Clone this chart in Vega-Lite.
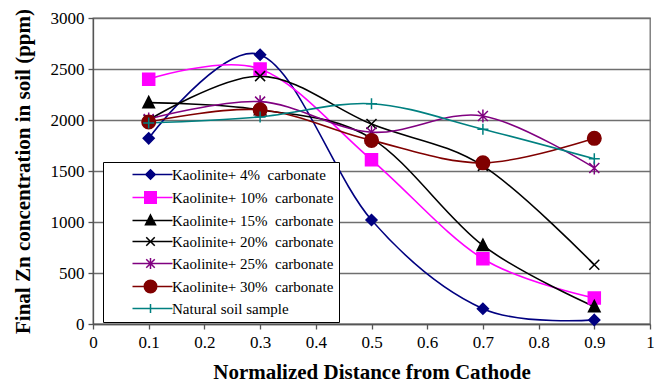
{
  "$schema": "https://vega.github.io/schema/vega-lite/v6.json",
  "width": 557,
  "height": 306,
  "autosize": {"type": "none"},
  "padding": {"left": 93, "top": 18, "right": 4, "bottom": 61},
  "background": "white",
  "config": {
    "view": {"stroke": "#6f6f6f", "strokeWidth": 1.3},
    "font": "Liberation Serif",
    "axis": {"labelFont": "Liberation Serif", "titleFont": "Liberation Serif", "labelColor": "black", "titleColor": "black", "domainColor": "#555555", "tickColor": "#555555", "domainWidth": 1.3, "tickWidth": 1.3},
    "legend": {"labelFont": "Liberation Serif"}
  },
  "data": {"values": [
    {"x": 0.1, "y": 1820, "s": "Kaolinite+ 4%\u00a0 carbonate"},
    {"x": 0.3, "y": 2640, "s": "Kaolinite+ 4%\u00a0 carbonate"},
    {"x": 0.5, "y": 1020, "s": "Kaolinite+ 4%\u00a0 carbonate"},
    {"x": 0.7, "y": 150, "s": "Kaolinite+ 4%\u00a0 carbonate"},
    {"x": 0.9, "y": 40, "s": "Kaolinite+ 4%\u00a0 carbonate"},
    {"x": 0.1, "y": 2400, "s": "Kaolinite+ 10%\u00a0 carbonate"},
    {"x": 0.3, "y": 2500, "s": "Kaolinite+ 10%\u00a0 carbonate"},
    {"x": 0.5, "y": 1610, "s": "Kaolinite+ 10%\u00a0 carbonate"},
    {"x": 0.7, "y": 640, "s": "Kaolinite+ 10%\u00a0 carbonate"},
    {"x": 0.9, "y": 255, "s": "Kaolinite+ 10%\u00a0 carbonate"},
    {"x": 0.1, "y": 2170, "s": "Kaolinite+ 15%\u00a0 carbonate"},
    {"x": 0.3, "y": 2100, "s": "Kaolinite+ 15%\u00a0 carbonate"},
    {"x": 0.5, "y": 1820, "s": "Kaolinite+ 15%\u00a0 carbonate"},
    {"x": 0.7, "y": 770, "s": "Kaolinite+ 15%\u00a0 carbonate"},
    {"x": 0.9, "y": 170, "s": "Kaolinite+ 15%\u00a0 carbonate"},
    {"x": 0.1, "y": 2000, "s": "Kaolinite+ 20%\u00a0 carbonate"},
    {"x": 0.3, "y": 2430, "s": "Kaolinite+ 20%\u00a0 carbonate"},
    {"x": 0.5, "y": 1960, "s": "Kaolinite+ 20%\u00a0 carbonate"},
    {"x": 0.7, "y": 1550, "s": "Kaolinite+ 20%\u00a0 carbonate"},
    {"x": 0.9, "y": 580, "s": "Kaolinite+ 20%\u00a0 carbonate"},
    {"x": 0.1, "y": 2010, "s": "Kaolinite+ 25%\u00a0 carbonate"},
    {"x": 0.3, "y": 2180, "s": "Kaolinite+ 25%\u00a0 carbonate"},
    {"x": 0.5, "y": 1880, "s": "Kaolinite+ 25%\u00a0 carbonate"},
    {"x": 0.7, "y": 2040, "s": "Kaolinite+ 25%\u00a0 carbonate"},
    {"x": 0.9, "y": 1530, "s": "Kaolinite+ 25%\u00a0 carbonate"},
    {"x": 0.1, "y": 1980, "s": "Kaolinite+ 30%\u00a0 carbonate"},
    {"x": 0.3, "y": 2100, "s": "Kaolinite+ 30%\u00a0 carbonate"},
    {"x": 0.5, "y": 1800, "s": "Kaolinite+ 30%\u00a0 carbonate"},
    {"x": 0.7, "y": 1580, "s": "Kaolinite+ 30%\u00a0 carbonate"},
    {"x": 0.9, "y": 1820, "s": "Kaolinite+ 30%\u00a0 carbonate"},
    {"x": 0.1, "y": 1970, "s": "Natural soil sample"},
    {"x": 0.3, "y": 2030, "s": "Natural soil sample"},
    {"x": 0.5, "y": 2160, "s": "Natural soil sample"},
    {"x": 0.7, "y": 1910, "s": "Natural soil sample"},
    {"x": 0.9, "y": 1620, "s": "Natural soil sample"}
  ]},
  "encoding": {
    "x": {"field": "x", "type": "quantitative",
      "scale": {"domain": [0, 1], "nice": false, "zero": false},
      "axis": {"values": [0, 0.1, 0.2, 0.3, 0.4, 0.5, 0.6, 0.7, 0.8, 0.9, 1], "format": "~g", "grid": false,
        "title": "Normalized Distance from Cathode", "titleFontSize": 21, "titleFontWeight": "bold", "titlePadding": 11,
        "labelFontSize": 17, "labelPadding": 5, "tickSize": 5, "labelFlush": false}},
    "y": {"field": "y", "type": "quantitative",
      "scale": {"domain": [0, 3000], "nice": false},
      "axis": {"values": [0, 500, 1000, 1500, 2000, 2500, 3000], "format": "d", "grid": true, "gridColor": "#6f6f6f", "gridWidth": 1.4,
        "title": "Final Zn concentration in soil (ppm)", "titleFontSize": 21, "titleFontWeight": "bold", "titlePadding": 17,
        "labelFontSize": 17, "labelPadding": 4, "tickSize": 5}}
  },
  "layer": [
    {
      "mark": {"type": "line", "interpolate": "cardinal", "strokeWidth": 1.6},
      "encoding": {
        "color": {"field": "s", "type": "nominal", "legend": null,
          "scale": {"domain": ["Kaolinite+ 4%\u00a0 carbonate", "Kaolinite+ 10%\u00a0 carbonate", "Kaolinite+ 15%\u00a0 carbonate", "Kaolinite+ 20%\u00a0 carbonate", "Kaolinite+ 25%\u00a0 carbonate", "Kaolinite+ 30%\u00a0 carbonate", "Natural soil sample"],
            "range": ["#000080", "#ff00ff", "#000000", "#000000", "#800080", "#800000", "#008080"]}}
      }
    },
    {
      "mark": {"type": "point", "size": 100, "strokeWidth": 1.5, "opacity": 1},
      "encoding": {
        "shape": {"field": "s", "type": "nominal", "legend": null,
          "scale": {"domain": ["Kaolinite+ 4%\u00a0 carbonate", "Kaolinite+ 10%\u00a0 carbonate", "Kaolinite+ 15%\u00a0 carbonate", "Kaolinite+ 20%\u00a0 carbonate", "Kaolinite+ 25%\u00a0 carbonate", "Kaolinite+ 30%\u00a0 carbonate", "Natural soil sample"],
            "range": ["M0,-1.1L1.1,0L0,1.1L-1.1,0Z", "M-1.2,-1.2H1.2V1.2H-1.2Z", "M0,-1.25L1.15,1H-1.15Z", "M-1,-1L1,1M-1,1L1,-1", "M-1,-1L1,1M-1,1L1,-1M0,-1.3V1.3", "M-1.35,0A1.35,1.35,0,1,1,1.35,0A1.35,1.35,0,1,1,-1.35,0Z", "M-1.1,0H1.1M0,-1.1V1.1"]}},
        "fill": {"field": "s", "type": "nominal", "legend": null,
          "scale": {"domain": ["Kaolinite+ 4%\u00a0 carbonate", "Kaolinite+ 10%\u00a0 carbonate", "Kaolinite+ 15%\u00a0 carbonate", "Kaolinite+ 20%\u00a0 carbonate", "Kaolinite+ 25%\u00a0 carbonate", "Kaolinite+ 30%\u00a0 carbonate", "Natural soil sample"],
            "range": ["#000080", "#ff00ff", "#000000", "transparent", "transparent", "#800000", "transparent"]}},
        "stroke": {"field": "s", "type": "nominal", "legend": null,
          "scale": {"domain": ["Kaolinite+ 4%\u00a0 carbonate", "Kaolinite+ 10%\u00a0 carbonate", "Kaolinite+ 15%\u00a0 carbonate", "Kaolinite+ 20%\u00a0 carbonate", "Kaolinite+ 25%\u00a0 carbonate", "Kaolinite+ 30%\u00a0 carbonate", "Natural soil sample"],
            "range": ["#000080", "#ff00ff", "#000000", "#000000", "#800080", "#800000", "#008080"]}}
      }
    },
    {
      "transform": [{"filter": "false"}],
      "mark": {"type": "point", "size": 100, "strokeWidth": 1.5, "opacity": 1},
      "encoding": {
        "shape": {"field": "s", "type": "nominal",
          "scale": {"domain": ["Kaolinite+ 4%\u00a0 carbonate", "Kaolinite+ 10%\u00a0 carbonate", "Kaolinite+ 15%\u00a0 carbonate", "Kaolinite+ 20%\u00a0 carbonate", "Kaolinite+ 25%\u00a0 carbonate", "Kaolinite+ 30%\u00a0 carbonate", "Natural soil sample"],
            "range": ["M-3.6,0H4.4M0,-0.95L0.95,0L0,0.95L-0.95,0Z", "M-3.6,0H4.4M-1.15,-1.15H1.15V1.15H-1.15Z", "M-3.6,0H4.4M0,-1.1L1,0.85H-1Z", "M-3.6,0H4.4M-0.85,-0.85L0.85,0.85M-0.85,0.85L0.85,-0.85", "M-3.6,0H4.4M-0.85,-0.85L0.85,0.85M-0.85,0.85L0.85,-0.85M0,-1.1V1.1", "M-3.6,0H4.4M-1.25,0A1.25,1.25,0,1,1,1.25,0A1.25,1.25,0,1,1,-1.25,0Z", "M-3.6,0H4.4M0,-0.9V0.9"]},
          "legend": {"orient": "none", "legendX": 10, "legendY": 144, "title": null, "padding": 5,
            "fillColor": "white", "strokeColor": "#000000",
            "symbolSize": 100, "symbolStrokeWidth": 1.5, "symbolOffset": 35, "labelOffset": 14,
            "labelFont": "Liberation Serif", "labelFontSize": 15, "labelColor": "black", "labelLimit": 0,
            "rowPadding": 5}},
        "fill": {"field": "s", "type": "nominal",
          "scale": {"domain": ["Kaolinite+ 4%\u00a0 carbonate", "Kaolinite+ 10%\u00a0 carbonate", "Kaolinite+ 15%\u00a0 carbonate", "Kaolinite+ 20%\u00a0 carbonate", "Kaolinite+ 25%\u00a0 carbonate", "Kaolinite+ 30%\u00a0 carbonate", "Natural soil sample"],
            "range": ["#000080", "#ff00ff", "#000000", "transparent", "transparent", "#800000", "transparent"]}},
        "stroke": {"field": "s", "type": "nominal",
          "scale": {"domain": ["Kaolinite+ 4%\u00a0 carbonate", "Kaolinite+ 10%\u00a0 carbonate", "Kaolinite+ 15%\u00a0 carbonate", "Kaolinite+ 20%\u00a0 carbonate", "Kaolinite+ 25%\u00a0 carbonate", "Kaolinite+ 30%\u00a0 carbonate", "Natural soil sample"],
            "range": ["#000080", "#ff00ff", "#000000", "#000000", "#800080", "#800000", "#008080"]}}
      }
    }
  ],
  "resolve": {"scale": {"shape": "independent", "fill": "independent", "stroke": "independent", "color": "independent"}}
}
